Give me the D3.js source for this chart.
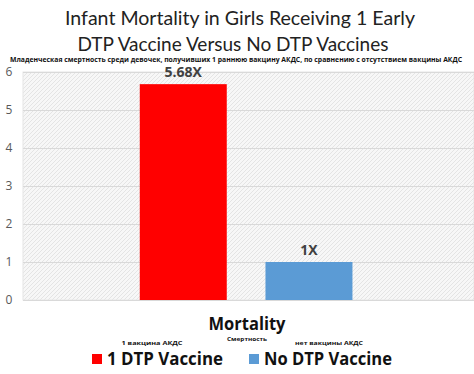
<!DOCTYPE html>
<html>
<head>
<meta charset="utf-8">
<script src="https://cdn.jsdelivr.net/npm/d3@7"></script>
<style>
  body { margin: 0; background: #fff; }
  svg { display: block; }
</style>
</head>
<body>
<svg width="474" height="374"></svg>
<script>
// series (one category, two series like the excel chart)
var series = ["1 DTP Vaccine", "No DTP Vaccine"];
var seriesRu = ["1 вакцина АКДС", "нет вакцины АКДС"];
var values = [5.68, 1];
var valueLabels = ["5.68X", "1X"];
var colors = ["#ff0000", "#5b9bd5"];
var yTicks = [0, 1, 2, 3, 4, 5, 6];

var svg = d3.select("svg");
var plot = {left: 23, right: 474, top: 72, bottom: 300};

// hatched background of the plot area
var defs = svg.append("defs");
defs.append("pattern").attr("id", "hatch").attr("patternUnits", "userSpaceOnUse")
  .attr("width", 4).attr("height", 4)
  .call(function(p) {
    p.append("rect").attr("width", 4).attr("height", 4).attr("fill", "#f7f7f7");
    p.append("path").attr("d", "M-1,1 l2,-2 M0,4 l4,-4 M3,5 l2,-2")
      .attr("stroke", "#e4e4e4").attr("stroke-width", 1);
  });

var x = d3.scaleBand().domain(series).range([plot.left, plot.right])
  .paddingInner(0.308).paddingOuter(0.948).align(0.49);
var y = d3.scaleLinear().domain([0, 6]).range([plot.bottom, plot.top]);

svg.append("rect")
  .attr("x", plot.left).attr("y", plot.top)
  .attr("width", plot.right - plot.left).attr("height", plot.bottom - plot.top)
  .attr("fill", "url(#hatch)").attr("stroke", "#e6e6e6");

// gridlines
svg.append("g").selectAll("line").data(yTicks).enter().append("line")
  .attr("x1", plot.left).attr("x2", plot.right)
  .attr("y1", function(d) { return y(d) + 0.5 })
  .attr("y2", function(d) { return y(d) + 0.5 })
  .attr("stroke", "#d9d9d9").attr("stroke-width", 1);

// y tick labels
svg.append("g").selectAll("text").data(yTicks).enter().append("text")
  .attr("x", 9).attr("y", function(d) { return y(d) + 4 })
  .attr("text-anchor", "middle")
  .style("font", "12px 'Open Sans', sans-serif").style("fill", "#595959")
  .text(function(d) { return d });

// bars
svg.append("g").selectAll("rect").data(values).enter().append("rect")
  .attr("x", function(d, i) { return x(series[i]) })
  .attr("y", function(d) { return y(d) })
  .attr("width", x.bandwidth())
  .attr("height", function(d) { return y(0) - y(d) })
  .attr("fill", function(d, i) { return colors[i] });

// value labels
svg.append("g").selectAll("text").data(values).enter().append("text")
  .attr("x", function(d, i) { return x(series[i]) + x.bandwidth() / 2 })
  .attr("y", function(d) { return y(d) - 7 })
  .attr("text-anchor", "middle")
  .style("font", "bold 14px 'Open Sans', sans-serif").style("fill", "#404040")
  .text(function(d, i) { return valueLabels[i] });

// titles
svg.append("text").attr("x", 240).attr("y", 25).attr("text-anchor", "middle")
  .attr("textLength", 350).attr("lengthAdjust", "spacingAndGlyphs")
  .style("font", "20px Lato, sans-serif").style("fill", "#222")
  .text("Infant Mortality in Girls Receiving 1 Early");
svg.append("text").attr("x", 233).attr("y", 51).attr("text-anchor", "middle")
  .attr("textLength", 311).attr("lengthAdjust", "spacingAndGlyphs")
  .style("font", "20px Lato, sans-serif").style("fill", "#222")
  .text("DTP Vaccine Versus No DTP Vaccines");
svg.append("text").attr("x", 236).attr("y", 62).attr("text-anchor", "middle")
  .attr("textLength", 452).attr("lengthAdjust", "spacingAndGlyphs")
  .style("font", "bold 7px 'Open Sans', sans-serif").style("fill", "#111")
  .text("Младенческая смертность среди девочек, получивших 1 раннюю вакцину АКДС, по сравнению с отсутствием вакцины АКДС");

// x axis title
svg.append("text").attr("x", 247).attr("y", 330).attr("text-anchor", "middle")
  .attr("textLength", 77).attr("lengthAdjust", "spacingAndGlyphs")
  .style("font", "bold 18px 'Open Sans', sans-serif").style("fill", "#111")
  .text("Mortality");
svg.append("text").attr("x", 247).attr("y", 341).attr("text-anchor", "middle")
  .attr("textLength", 40).attr("lengthAdjust", "spacingAndGlyphs")
  .style("font", "bold 6px 'Open Sans', sans-serif").style("fill", "#111")
  .text("Смертность");

// legend
var legX = [92, 249], legW = [116, 128], ruX = [152, 329], ruW = [61, 68];
var leg = svg.append("g").selectAll("g").data(series).enter().append("g");
leg.append("rect")
  .attr("x", function(d, i) { return legX[i] }).attr("y", 354)
  .attr("width", 10).attr("height", 10)
  .attr("fill", function(d, i) { return colors[i] });
leg.append("text")
  .attr("x", function(d, i) { return legX[i] + 15 }).attr("y", 365)
  .attr("textLength", function(d, i) { return legW[i] }).attr("lengthAdjust", "spacingAndGlyphs")
  .style("font", "bold 17px 'Open Sans', sans-serif").style("fill", "#111")
  .text(function(d) { return d });
leg.append("text")
  .attr("x", function(d, i) { return ruX[i] }).attr("y", 345)
  .attr("text-anchor", "middle")
  .attr("textLength", function(d, i) { return ruW[i] }).attr("lengthAdjust", "spacingAndGlyphs")
  .style("font", "bold 6px 'Open Sans', sans-serif").style("fill", "#111")
  .text(function(d, i) { return seriesRu[i] });
</script>
</body>
</html>
